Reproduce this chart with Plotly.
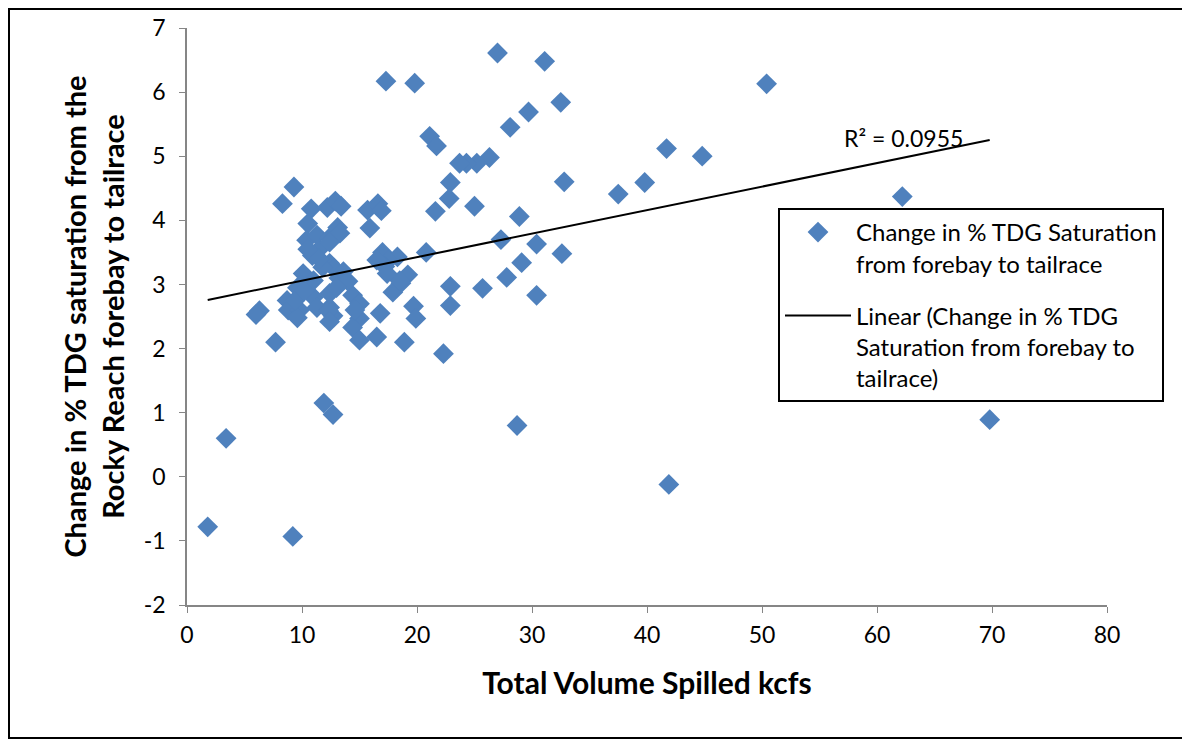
import numpy as np
import plotly.graph_objects as go

# Total volume spilled (kcfs) and change in % TDG saturation
spill_kcfs = [
    1.8, 3.4, 9.2, 11.9, 12.7, 28.7, 41.9, 69.8, 62.2, 50.4,
    44.8, 41.7, 39.8, 37.5, 32.8, 32.6, 32.5, 31.1, 29.7, 28.1,
    27.0, 26.3, 25.2, 24.3, 23.7, 21.1, 21.7, 22.9, 22.8, 21.6,
    25.0, 28.9, 27.3, 30.4, 20.8, 29.1, 27.8, 22.9, 25.7, 22.9,
    30.4, 19.7, 19.9, 18.9, 22.3, 19.8, 17.3,
    6.3, 6.0, 7.7, 8.3, 9.3, 10.8, 10.5, 10.4, 11.3, 10.9,
    11.5, 12.2, 12.4, 12.9, 13.4, 13.1, 13.3, 12.4, 15.7, 16.6,
    16.9, 15.9, 17.0, 18.3, 17.5, 17.2, 19.2, 18.6, 17.9, 18.5,
    17.4, 16.5, 12.4, 12.8, 13.2, 13.6, 14.4, 15.0, 12.4, 12.7,
    16.8, 15.0, 14.4, 15.0, 16.5, 10.1, 9.6, 8.7, 8.8, 9.8,
    9.6, 11.0, 11.3, 12.3, 12.4, 11.0, 11.8, 12.4, 9.4, 10.2,
    14.0, 13.0, 14.6, 11.5, 10.5,
]
tdg_change = [
    -0.78, 0.60, -0.93, 1.15, 0.97, 0.80, -0.12, 0.89, 4.37, 6.13,
    5.00, 5.12, 4.59, 4.41, 4.60, 3.48, 5.84, 6.48, 5.69, 5.45,
    6.61, 4.98, 4.89, 4.89, 4.89, 5.31, 5.16, 4.59, 4.34, 4.14,
    4.22, 4.06, 3.70, 3.63, 3.50, 3.34, 3.11, 2.97, 2.94, 2.67,
    2.83, 2.66, 2.47, 2.10, 1.92, 6.14, 6.17,
    2.59, 2.53, 2.10, 4.26, 4.52, 4.18, 3.95, 3.69, 3.77, 3.45,
    3.55, 4.20, 3.73, 4.30, 4.22, 3.89, 3.80, 3.66, 4.16, 4.26,
    4.15, 3.88, 3.50, 3.43, 3.37, 3.28, 3.15, 3.02, 2.88, 3.06,
    3.17, 3.38, 3.33, 3.25, 3.10, 3.20, 2.83, 2.70, 2.64, 2.51,
    2.55, 2.47, 2.33, 2.13, 2.18, 3.17, 2.95, 2.75, 2.60, 2.60,
    2.48, 2.80, 2.64, 2.59, 2.42, 3.06, 3.27, 2.86, 2.75, 2.90,
    3.05, 2.95, 2.60, 3.40, 3.55,
]
x_ticks = [0, 10, 20, 30, 40, 50, 60, 70, 80]
y_ticks = [-2, -1, 0, 1, 2, 3, 4, 5, 6, 7]
y_tick_labels = ["-2", "-1", "0", "1", "2", "3", "4", "5", "6", "7"]
r2_label = "R² = 0.0955"
series_name = "Change in % TDG Saturation<br>from forebay to tailrace"
trend_name = "Linear (Change in % TDG<br>Saturation from forebay to<br>tailrace)"

x = np.array(spill_kcfs)
y = np.array(tdg_change)
slope, intercept = np.polyfit(x, y, 1)
tx = np.array([x.min(), x.max()])
ty = slope * tx + intercept

FONT = "Lato, 'Open Sans', sans-serif"
blue = "#4F81BD"
grey = "#868686"

fig = go.Figure()
fig.add_trace(go.Scatter(
    x=spill_kcfs, y=tdg_change, mode="markers", name=series_name, legendgroup="g1",
    marker=dict(symbol="diamond", size=16, color=blue, line=dict(width=0)),
))
fig.add_trace(go.Scatter(
    x=tx, y=ty, mode="lines", name=trend_name, legendgroup="g2",
    line=dict(color="black", width=2),
))

fig.add_annotation(x=62.3, y=5.28, text=r2_label, showarrow=False,
                   font=dict(family=FONT, size=23, color="black"))

# figure coordinates (page has an 8px body offset)
FW, FH = 1182, 732
L, R, T, B = 179, 1099, 20, 597
W, H = R - L, B - T
def px(xp):
    return (xp - L) / W
def py(yp):
    return (B - yp) / H
fig.add_shape(type="rect", xref="paper", yref="paper",
              x0=px(1), x1=px(1180), y0=py(730), y1=py(1),
              line=dict(color="black", width=2), fillcolor="rgba(0,0,0,0)")

fig.update_layout(
    width=FW, height=FH,
    margin=dict(l=L, r=FW - R, t=T, b=FH - B, autoexpand=False),
    paper_bgcolor="white", plot_bgcolor="white",
    font=dict(family=FONT, size=23, color="black"),
    showlegend=True,
    legend=dict(x=px(770), y=py(200), xanchor="left", yanchor="top",
                bordercolor="black", borderwidth=2, bgcolor="white",
                font=dict(family=FONT, size=24, color="black"),
                tracegroupgap=18, itemwidth=66, valign="top",
                entrywidth=348, entrywidthmode="pixels"),
    xaxis=dict(range=[0, 80], tickmode="array", tickvals=x_ticks, automargin=False,
               showgrid=False, zeroline=False, showline=True, linecolor=grey, linewidth=1.5,
               ticks="outside", ticklen=6, tickcolor=grey, ticklabelstandoff=3,
               tickfont=dict(family=FONT, size=23),
               title=dict(text="<b>Total Volume Spilled kcfs</b>", font=dict(family=FONT, size=30), standoff=26)),
    yaxis=dict(range=[-2, 7], tickmode="array", tickvals=y_ticks, ticktext=y_tick_labels,
               automargin=False,
               showgrid=False, zeroline=False, showline=True, linecolor=grey, linewidth=1.5,
               ticks="outside", ticklen=6, tickcolor=grey, ticklabelstandoff=9,
               tickfont=dict(family=FONT, size=23),
               title=dict(text="<b>Change in % TDG saturation from the<br>Rocky Reach forebay to tailrace</b>",
                          font=dict(family=FONT, size=29), standoff=11)),
)

fig.write_html("out.html")
